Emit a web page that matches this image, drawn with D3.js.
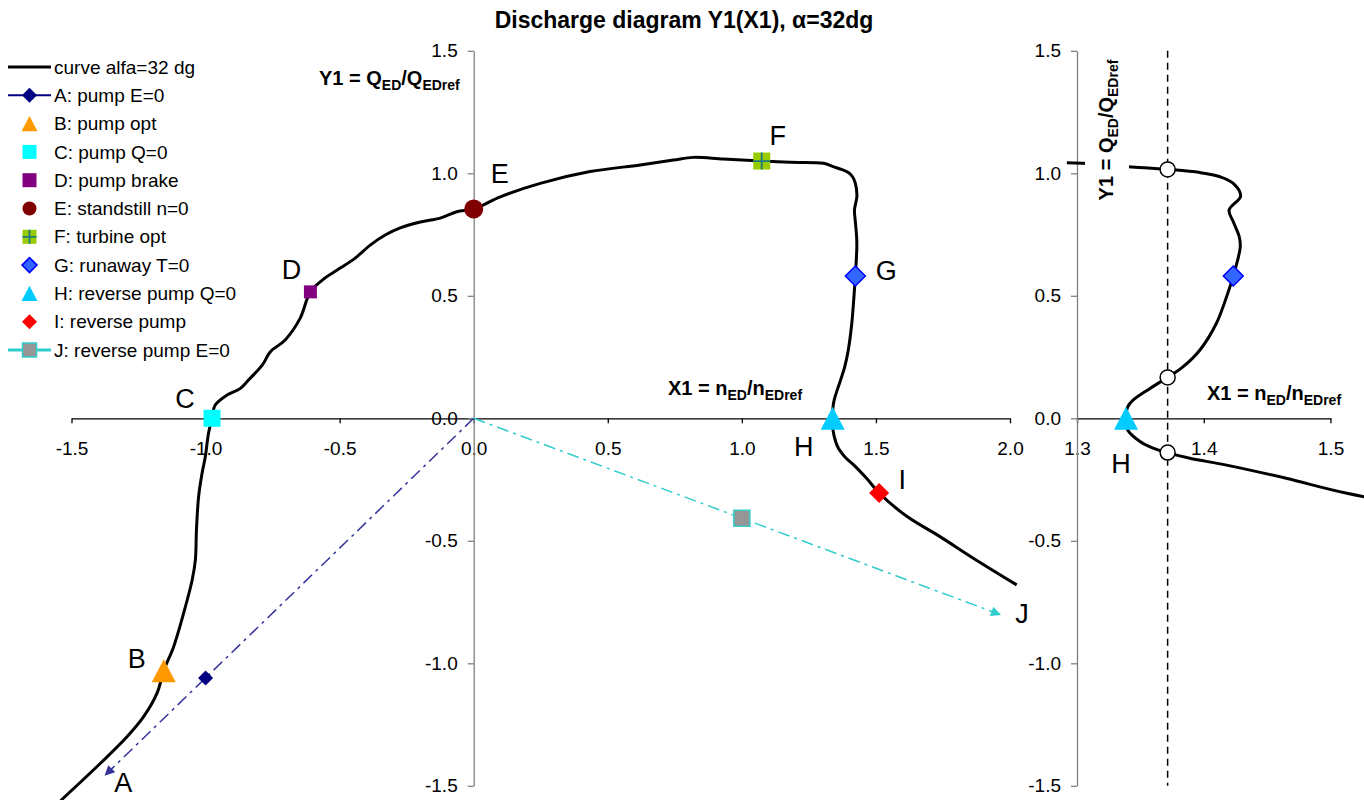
<!DOCTYPE html>
<html>
<head>
<meta charset="utf-8">
<script src="https://cdn.jsdelivr.net/npm/d3@7"></script>
<style>
  body { margin: 0; background: #fff; }
  svg { display: block; font-family: "Liberation Sans", Arial, sans-serif; }
</style>
</head>
<body>
<svg id="chart"></svg>
<script>
"use strict";

// ---- data ----
var curveX = [-1.54, -1.392, -1.293, -1.231, -1.181, -1.156, -1.119, -1.082, -1.050, -1.038,
  -1.034, -1.026, -1.013, -1.001, -0.989, -0.976, -0.964, -0.920, -0.870, -0.840,
  -0.788, -0.759, -0.703, -0.647, -0.609, -0.554, -0.498, -0.442, -0.386, -0.330,
  -0.274, -0.199, -0.125, -0.063, 0.0, 0.099, 0.248, 0.434, 0.621, 0.745,
  0.819, 0.931, 1.074, 1.180, 1.304, 1.3405, 1.3715, 1.397, 1.4128, 1.4233,
  1.4291, 1.420, 1.4233, 1.428, 1.4288, 1.4233, 1.418, 1.410, 1.397, 1.3838,
  1.3715, 1.3576, 1.3444, 1.340, 1.3387, 1.340, 1.3497, 1.360, 1.3712, 1.389,
  1.418, 1.465, 1.512, 1.615, 1.739, 1.863, 2.025];
var curveY = [-1.56, -1.408, -1.300, -1.218, -1.122, -1.030, -0.932, -0.796, -0.660, -0.578,
  -0.456, -0.320, -0.224, -0.157, -0.061, 0.0, 0.054, 0.095, 0.122, 0.156,
  0.218, 0.271, 0.320, 0.409, 0.516, 0.573, 0.613, 0.654, 0.707, 0.748,
  0.777, 0.801, 0.817, 0.843, 0.854, 0.904, 0.959, 1.007, 1.034, 1.054,
  1.065, 1.058, 1.050, 1.045, 1.041, 1.027, 1.016, 1.003, 0.986, 0.959,
  0.907, 0.850, 0.802, 0.741, 0.700, 0.581, 0.496, 0.388, 0.279, 0.211,
  0.167, 0.122, 0.075, 0.047, 0.0, -0.048, -0.095, -0.122, -0.140, -0.163,
  -0.191, -0.245, -0.305, -0.400, -0.483, -0.571, -0.680];

var pointNames = ["A", "B", "C", "D", "E", "F", "G", "H", "I", "J"];
var pointLegend = ["A: pump E=0", "B: pump opt", "C: pump Q=0", "D: pump brake",
  "E: standstill n=0", "F: turbine opt", "G: runaway T=0", "H: reverse pump Q=0",
  "I: reverse pump", "J: reverse pump E=0"];
var pointX = [-1.0, -1.156, -0.976, -0.609, 0.0, 1.074, 1.4233, 1.3387, 1.512, 1.0];
var pointY = [-1.06, -1.03, 0.0, 0.516, 0.854, 1.050, 0.581, 0.0, -0.305, -0.408];

// E=0 lines (A and J) start at origin and end with an arrow
var arrowNames = ["A", "J"];
var arrowEndX = [-1.374, 1.963];
var arrowEndY = [-1.456, -0.801];

// zoom panel: reference line and crossings
var zoomLineX = 1.3715;
var zoomCrossY = [1.016, 0.167, -0.140];
var zoomPoints = ["G", "H"];

var xTicksMain = [-1.5, -1.0, -0.5, 0.0, 0.5, 1.0, 1.5, 2.0];
var yTicks = [-1.5, -1.0, -0.5, 0.0, 0.5, 1.0, 1.5];
var xTicksZoom = [1.3, 1.4, 1.5];

// ---- styles ----
var markerStyle = {
  A: {shape: "diamond", r: 7.5, fill: "#000080", stroke: "none", line: "#333399"},
  B: {shape: "triangle", r: 12, fill: "#FF9900", stroke: "none"},
  C: {shape: "square", r: 8.5, fill: "#00FFFF", stroke: "none"},
  D: {shape: "square", r: 6.5, fill: "#800080", stroke: "none"},
  E: {shape: "circle", r: 9.5, fill: "#800000", stroke: "none"},
  F: {shape: "square", r: 8.5, fill: "#99CC00", stroke: "none", plus: "#1a7a80"},
  G: {shape: "diamond", r: 10, fill: "#3366FF", stroke: "#0000FF"},
  H: {shape: "triangle", r: 12, fill: "#00CCFF", stroke: "none"},
  I: {shape: "diamond", r: 10, fill: "#FF0000", stroke: "none"},
  J: {shape: "square", r: 8, fill: "#969696", stroke: "#33CCCC", line: "#33CCCC"}
};
// label offsets in px from the marker (A and J from the arrow tip)
var labelOffset = {
  A: [18, 7], B: [-27, -12], C: [-27, -20], D: [-19, -23], E: [26, -36],
  F: [16, -26], G: [31, -6], H: [-29, 28], I: [23, -14], J: [22, -1]
};

var width = 1364, height = 800;
var svg = d3.select("#chart").attr("width", width).attr("height", height);

// scales
var x = d3.scaleLinear().domain([-1.5, 2.0]).range([71.5, 1010]);
var y = d3.scaleLinear().domain([-1.5, 1.5]).range([785.8, 50.8]);
var xz = d3.scaleLinear().domain([1.3, 1.5]).range([1077, 1330.5]);

// plain hyphen minus, like the reference
var fmt = d => d.toFixed(1);

function markerPath(shape, r) {
  if (shape === "diamond") return `M0,${-r}L${r},0L0,${r}L${-r},0Z`;
  if (shape === "square") return `M${-r},${-r}H${r}V${r}H${-r}Z`;
  if (shape === "triangle") return `M0,${-r * 0.96}L${r},${r * 0.96}L${-r},${r * 0.96}Z`;
  return d3.arc()({innerRadius: 0, outerRadius: r, startAngle: 0, endAngle: 2 * Math.PI});
}

function drawMarker(g, name, cx, cy, r) {
  var s = markerStyle[name];
  var rr = r || s.r;
  g.append("path")
    .attr("d", markerPath(s.shape, rr))
    .attr("transform", `translate(${cx},${cy})`)
    .attr("fill", s.fill)
    .attr("stroke", s.stroke)
    .attr("stroke-width", 1.5);
  if (s.plus) {
    g.append("path")
      .attr("d", `M${cx - rr},${cy}H${cx + rr}M${cx},${cy - rr}V${cy + rr}`)
      .attr("stroke", s.plus)
      .attr("stroke-width", 1.8);
  }
}

function styleAxis(g, color) {
  g.select(".domain").attr("stroke", color).attr("stroke-width", 1.3);
  g.selectAll(".tick line").attr("stroke", color).attr("stroke-width", 1.3);
  g.selectAll(".tick text").attr("font-size", 19).attr("fill", "#000")
    .attr("font-family", "'Liberation Sans', Arial, sans-serif");
}

// axis title with subscripts
function subText(g, parts, anchor) {
  var t = g.append("text")
    .attr("text-anchor", anchor)
    .attr("font-weight", "bold")
    .attr("font-size", 20);
  var shift = 0;
  parts.forEach(function (p) {
    var s = p[1] ? 5 : 0;
    t.append("tspan")
      .attr("font-size", p[1] ? 14 : 20)
      .attr("dy", s - shift)
      .text(p[0]);
    shift = s;
  });
  return t;
}
var yTitleParts = [["Y1 = Q", 0], ["ED", 1], ["/Q", 0], ["EDref", 1]];
var xTitleParts = [["X1 = n", 0], ["ED", 1], ["/n", 0], ["EDref", 1]];

// arrowheads
var defs = svg.append("defs");
arrowNames.forEach(function (n) {
  defs.append("marker")
    .attr("id", "arrow" + n)
    .attr("viewBox", "0 0 10 10")
    .attr("refX", 9).attr("refY", 5)
    .attr("markerWidth", 12).attr("markerHeight", 10)
    .attr("markerUnits", "userSpaceOnUse")
    .attr("orient", "auto")
    .append("path")
    .attr("d", "M0,0L10,5L0,10Z")
    .attr("fill", markerStyle[n].line);
});
defs.append("clipPath").attr("id", "zoomClip")
  .append("rect")
  .attr("x", xz(1.292)).attr("y", 0)
  .attr("width", width - xz(1.292)).attr("height", height);

// ---------------- main panel ----------------
var main = svg.append("g");

main.append("g")
  .attr("transform", `translate(0,${y(0)})`)
  .call(d3.axisBottom(x).tickValues(xTicksMain).tickFormat(fmt).tickSizeInner(5).tickSizeOuter(0).tickPadding(18))
  .call(styleAxis, "#000");

main.append("g")
  .attr("transform", `translate(${x(0)},0)`)
  .call(d3.axisLeft(y).tickValues(yTicks).tickFormat(fmt).tickSizeInner(6).tickSizeOuter(0).tickPadding(10))
  .call(styleAxis, "#808080");

// E=0 dash-dot lines
arrowNames.forEach(function (n, i) {
  main.append("line")
    .attr("x1", x(0)).attr("y1", y(0))
    .attr("x2", x(arrowEndX[i])).attr("y2", y(arrowEndY[i]))
    .attr("stroke", markerStyle[n].line)
    .attr("stroke-width", 1.5)
    .attr("stroke-dasharray", "12,5,3,5")
    .attr("marker-end", "url(#arrow" + n + ")");
});

var curveData = curveX.map(function (v, i) { return [v, curveY[i]]; });

main.append("path")
  .datum(curveData)
  .attr("fill", "none")
  .attr("stroke", "#000")
  .attr("stroke-width", 3)
  .attr("stroke-linejoin", "round")
  .attr("d", d3.line().x(d => x(d[0])).y(d => y(d[1])).curve(d3.curveCatmullRom.alpha(0.5)));

pointNames.forEach(function (n, i) {
  drawMarker(main, n, x(pointX[i]), y(pointY[i]));
});

// point letters
pointNames.forEach(function (n, i) {
  var k = arrowNames.indexOf(n);
  var px = k >= 0 ? x(arrowEndX[k]) : x(pointX[i]);
  var py = k >= 0 ? y(arrowEndY[k]) : y(pointY[i]);
  main.append("text")
    .attr("x", px + labelOffset[n][0])
    .attr("y", py + labelOffset[n][1])
    .attr("text-anchor", "middle")
    .attr("dy", "0.36em")
    .attr("font-size", 27)
    .text(n);
});

subText(main, yTitleParts, "start").attr("transform", "translate(319,85)");
subText(main, xTitleParts, "start").attr("transform", "translate(668,395)");

// ---------------- zoom panel ----------------
var zoom = svg.append("g");

zoom.append("g")
  .attr("transform", `translate(0,${y(0)})`)
  .call(d3.axisBottom(xz).tickValues(xTicksZoom).tickFormat(fmt).tickSizeInner(5).tickSizeOuter(0).tickPadding(18))
  .call(styleAxis, "#000");

zoom.append("g")
  .attr("transform", `translate(${xz(1.3)},0)`)
  .call(d3.axisLeft(y).tickValues(yTicks).tickFormat(fmt).tickSizeInner(6).tickSizeOuter(0).tickPadding(10))
  .call(styleAxis, "#808080");

zoom.append("line")
  .attr("x1", xz(zoomLineX)).attr("x2", xz(zoomLineX))
  .attr("y1", y(1.5)).attr("y2", y(-1.5))
  .attr("stroke", "#000")
  .attr("stroke-width", 1.5)
  .attr("stroke-dasharray", "7,5");

zoom.append("path")
  .datum(curveData)
  .attr("clip-path", "url(#zoomClip)")
  .attr("fill", "none")
  .attr("stroke", "#000")
  .attr("stroke-width", 3)
  .attr("stroke-linejoin", "round")
  .attr("d", d3.line().x(d => xz(d[0])).y(d => y(d[1])).curve(d3.curveCatmullRom.alpha(0.5)));

// rotated y title with white box over the curve
var yTitleZ = zoom.append("g").attr("transform", "translate(1113,130) rotate(-90)");
var tz = subText(yTitleZ, yTitleParts, "middle");
var bb = tz.node().getBBox();
yTitleZ.insert("rect", "text")
  .attr("x", bb.x - 4).attr("y", bb.y - 10)
  .attr("width", bb.width + 8).attr("height", bb.height + 18)
  .attr("fill", "#fff");

zoomCrossY.forEach(function (v) {
  zoom.append("circle")
    .attr("cx", xz(zoomLineX)).attr("cy", y(v))
    .attr("r", 7.5)
    .attr("fill", "#fff")
    .attr("stroke", "#000")
    .attr("stroke-width", 1.5);
});

zoomPoints.forEach(function (n) {
  var i = pointNames.indexOf(n);
  drawMarker(zoom, n, xz(pointX[i]), y(pointY[i]));
});

zoom.append("text")
  .attr("x", xz(pointX[7]) - 5)
  .attr("y", y(pointY[7]) + 45)
  .attr("text-anchor", "middle")
  .attr("dy", "0.36em")
  .attr("font-size", 27)
  .text("H");

subText(zoom, xTitleParts, "start").attr("transform", "translate(1207,400)");

// ---------------- legend ----------------
var legendNames = ["curve"].concat(pointNames);
var legendText = ["curve alfa=32 dg"].concat(pointLegend);
var legend = svg.append("g").attr("transform", "translate(0,67)");

legendNames.forEach(function (n, i) {
  var gy = i * 28.3;
  if (n === "curve") {
    legend.append("line").attr("x1", 8).attr("x2", 51).attr("y1", gy).attr("y2", gy)
      .attr("stroke", "#000").attr("stroke-width", 3);
  } else {
    var s = markerStyle[n];
    if (s.line) {
      legend.append("line").attr("x1", 8).attr("x2", 51).attr("y1", gy).attr("y2", gy)
        .attr("stroke", n === "A" ? "#000080" : s.line)
        .attr("stroke-width", n === "A" ? 2 : 3);
    }
    var r = s.shape === "triangle" ? 8 : (s.shape === "diamond" ? 7.5 : 7);
    drawMarker(legend, n, 29.5, gy, r);
  }
  legend.append("text")
    .attr("x", 54)
    .attr("y", gy)
    .attr("dy", "0.35em")
    .attr("font-size", 19)
    .text(legendText[i]);
});

// ---------------- title ----------------
svg.append("text")
  .attr("x", 684)
  .attr("y", 28)
  .attr("text-anchor", "middle")
  .attr("font-weight", "bold")
  .attr("font-size", 23)
  .text("Discharge diagram Y1(X1), \u03b1=32dg");
</script>
</body>
</html>
